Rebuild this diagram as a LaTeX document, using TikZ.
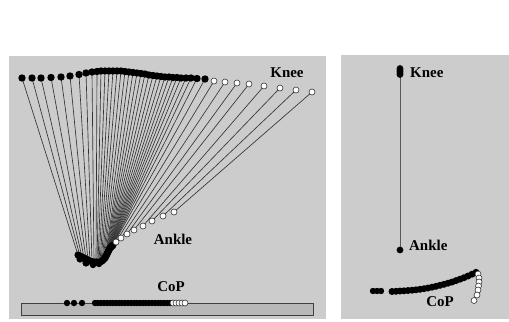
\documentclass[tikz,border=0pt]{standalone}
\usepackage{fontspec}
\setmainfont{Liberation Serif}
\definecolor{panelgray}{RGB}{204,204,204}
\definecolor{bargray}{RGB}{184,184,184}
\begin{document}
\begin{tikzpicture}[x=1bp,y=-1bp,
  lbl/.style={font=\fontsize{15}{16}\selectfont\bfseries, inner sep=0pt},
  seg/.style={draw=black!80, line width=0.65bp},
  bdot/.style={fill=black},
  wdot/.style={fill=white, draw=black!80, line width=0.6bp}]
\useasboundingbox (0,0) rectangle (509,321);
% panels
\fill[panelgray] (9,56) rectangle (326,319);
\fill[panelgray] (341,55) rectangle (509,319);
% ---- left panel: shank segments ----
\def\blackframes{22/78/78/255, 32/78/80/256, 41/78/82/257, 51/77.5/84/258, 61/77/86/259,
 70/76/88/260, 79/74.5/90/261, 86/73/92/261.5, 92/72/94/262, 97/71.5/96/262,
 101/71/97/262, 105/71/98/262.5, 109/71/99/262.5, 113/71/100/262, 117/71/101/261.5,
 121/71/102/261, 125/71.5/103/260, 129/72/104/259, 133/72.5/105/258, 137/73/105.5/257,
 141/73.5/106/256, 145/74/106.5/255, 149/75/107/254, 153/75.5/107.5/253, 157/76/108/252,
 161/76.5/108.5/251, 165/77/109/250, 169/77/109.5/249, 173/77.5/110/248, 177/77.5/110.5/247.5,
 181/78/111/247, 186/78/111.5/246.5, 191/78/112/246, 197/78.5/112.5/245.5, 205/79/113/245}
\def\whiteframes{214/81/116/242, 225/82/121/238, 237/83/127/234, 249/84/134/230,
 264/86/143/226, 280/88/152/221, 296/90/163/216, 312/92/174/212}
\foreach \kx/\ky/\ax/\ay in \blackframes { \draw[seg] (\kx,\ky) -- (\ax,\ay); }
\foreach \kx/\ky/\ax/\ay in \whiteframes { \draw[seg] (\kx,\ky) -- (\ax,\ay); }
\foreach \kx/\ky/\ax/\ay in \blackframes {
  \fill[bdot] (\kx,\ky) circle[radius=3.7bp];
  \fill[bdot] (\ax,\ay) circle[radius=3.6bp];
}
\foreach \kx/\ky/\ax/\ay in \whiteframes {
  \filldraw[wdot] (\kx,\ky) circle[radius=3bp];
  \filldraw[wdot] (\ax,\ay) circle[radius=3bp];
}
% extra ankle blob mass
\fill[bdot] (80,259) circle[radius=3.6bp] (86,263) circle[radius=3.6bp] (93,265) circle[radius=3.2bp] (99,264) circle[radius=3.2bp];
% ---- left CoP bar ----
\filldraw[fill=bargray, draw=black!75, line width=0.8bp] (21,303) rectangle (313,315);
\foreach \x in {67,74,82} { \fill[bdot] (\x,303) circle[radius=3.2bp]; }
\foreach \x in {95,98,...,170} { \fill[bdot] (\x,303) circle[radius=3.2bp]; }
\foreach \x in {173,176,179,182,185} { \filldraw[wdot] (\x,303) circle[radius=3bp]; }
% labels left
\node[lbl] (kneeL) at (287,73) {Knee};
\node[lbl] (ankleL) at (173,239) {Ankle};
\node[lbl] (copL) at (171,287) {CoP};
% ---- right panel ----
\coordinate (kneeR) at (400,72);
\coordinate (ankleR) at (400,250);
\draw[draw=black!65, line width=1bp] (kneeR) -- (ankleR);
\foreach \y in {68.5,70,71.5,73,74.5} { \fill[bdot] (400,\y) circle[radius=3.4bp]; }
\fill[bdot] (ankleR) circle[radius=3.4bp];
\node[lbl, anchor=west] (kneeRl) at (410,73) {Knee};
\node[lbl, anchor=west] (ankleRl) at (409,245) {Ankle};
% right CoP trace
\foreach \x in {373,377,381} { \fill[bdot] (\x,291) circle[radius=3.2bp]; }
\foreach \x/\y in {392/291.5, 396/291.3, 400/291, 404/290.8, 408/290.5, 412/290.2, 416/289.8,
  420/289.3, 424/288.7, 428/288, 432/287.2, 436/286.3, 440/285.3, 444/284.3, 448/283.2,
  452/282, 456/280.6, 460/279.2, 464/277.7, 468/276, 472/274.2, 476/272.3} {
  \fill[bdot] (\x,\y) circle[radius=3.5bp]; }
\foreach \x/\y in {478/274, 479/278, 479/282, 478.5/286, 478/290, 477/295, 474/300.5} {
  \filldraw[wdot] (\x,\y) circle[radius=3bp]; }
\node[lbl] (copR) at (440,302) {CoP};
\end{tikzpicture}
\end{document}
